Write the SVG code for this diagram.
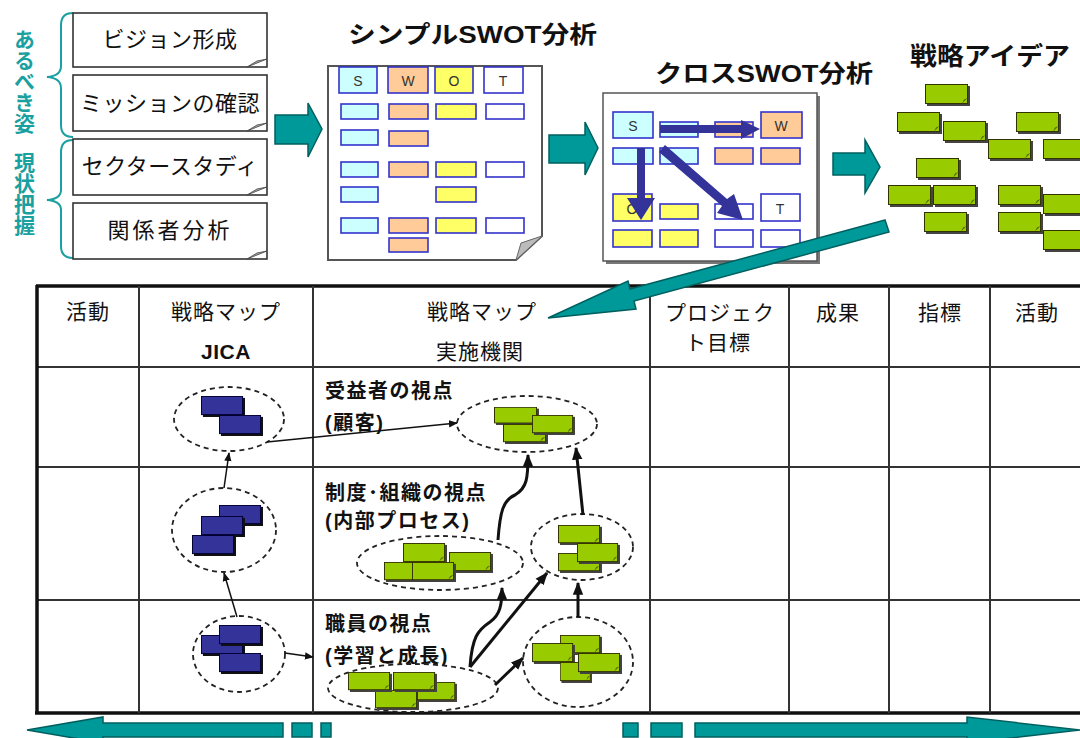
<svg xmlns="http://www.w3.org/2000/svg" xmlns:xlink="http://www.w3.org/1999/xlink" width="1080" height="738" viewBox="0 0 1080 738">
<style>
text{font-family:"Liberation Sans","Noto Sans CJK JP",sans-serif;fill:#111}
.box{fill:#fff;stroke:#333;stroke-width:1.6}
.fold{fill:#aaa;stroke:#444;stroke-width:0.8}
.bt{font-size:22px;text-anchor:middle;letter-spacing:0.5px}
.vt{font-size:21px;font-weight:bold;fill:#1aa0a0;writing-mode:vertical-rl}
.brace{fill:none;stroke:#1aa0a0;stroke-width:2}
.title{font-size:24px;font-weight:bold}
.teal{fill:#009999;stroke:#005f5f;stroke-width:1.5}
.c{stroke:#3333cc;stroke-width:1.6}
.S{fill:#ccffff}.W{fill:#ffcc99}.O{fill:#ffff66}.T{fill:#fff}
.cl{font-size:14px;text-anchor:middle;fill:#333}
.grid{stroke:#333;stroke-width:2}
.thick{stroke:#111;stroke-width:3.5}
.ht{font-size:21px;text-anchor:middle;letter-spacing:1px}
.ml{font-size:20px;font-weight:bold;letter-spacing:1.5px}
.ell{fill:#fff;stroke:#222;stroke-width:1.8;stroke-dasharray:5 4}
.thin{fill:none;stroke:#111;stroke-width:1.5}
.bold{fill:none;stroke:#111;stroke-width:3}
.xa{fill:#333399}
</style>
<defs>
<symbol id="gb" viewBox="0 0 45 22" preserveAspectRatio="none">
<rect x="2" y="2" width="43" height="20" fill="#444"/>
<rect x="0.5" y="0.5" width="42" height="19" fill="#99cc00" stroke="#333300" stroke-width="1"/>
<path d="M37,19.5 L42.5,14 L39,15.5 Z" fill="#556600"/>
</symbol>
<symbol id="bb" viewBox="0 0 45 22" preserveAspectRatio="none">
<rect x="2" y="2" width="43" height="20" fill="#111"/>
<rect x="0.5" y="0.5" width="42" height="19" fill="#333399" stroke="#000033" stroke-width="1"/>
</symbol>
<marker id="ah" viewBox="0 0 10 10" refX="9" refY="5" markerWidth="9" markerHeight="9" markerUnits="userSpaceOnUse" orient="auto"><path d="M0,1 L10,5 L0,9 Z" fill="#111"/></marker>
<marker id="ahb" viewBox="0 0 10 10" refX="9" refY="5" markerWidth="13" markerHeight="13" markerUnits="userSpaceOnUse" orient="auto"><path d="M0,1 L10,5 L0,9 Z" fill="#111"/></marker>
</defs>

<g id="status-labels">
<text class="vt" x="23" y="29">あるべき姿</text>
<text class="vt" x="23" y="152">現状把握</text>
<path class="brace" d="M73,13 Q61,13 61,25 L61,66 Q61,76 47,77 Q61,78 61,88 L61,125 Q61,137 73,137"/>
<path class="brace" d="M73,140 Q61,140 61,152 L61,190 Q61,199 47,200 Q61,201 61,210 L61,246 Q61,258 73,258"/>
</g>

<g id="box-vision">
<rect class="box" x="73" y="13" width="194" height="54"/>
<polygon class="fold" points="247,67 267,59 257,61"/>
<text class="bt" x="170" y="47">ビジョン形成</text>
</g>
<g id="box-mission">
<rect class="box" x="73" y="75" width="194" height="56"/>
<polygon class="fold" points="247,131 267,123 257,125"/>
<text class="bt" x="170" y="111">ミッションの確認</text>
</g>
<g id="box-sector">
<rect class="box" x="73" y="139" width="194" height="56"/>
<polygon class="fold" points="247,195 267,187 257,189"/>
<text class="bt" x="170" y="174">セクタースタディ</text>
</g>
<g id="box-stakeholder">
<rect class="box" x="73" y="203" width="194" height="56"/>
<polygon class="fold" points="247,259 267,251 257,253"/>
<text class="bt" x="170" y="238" style="letter-spacing:3px">関係者分析</text>
</g>

<g id="simple-swot">
<text class="title" x="348" y="43" textLength="249" lengthAdjust="spacingAndGlyphs">シンプルSWOT分析</text>
<path d="M328,66 L542,66 L542,236 L516,260 L328,260 Z" fill="#fff" stroke="#555" stroke-width="2"/>
<polygon points="516,260 542,236 521,243" fill="#bbb" stroke="#666" stroke-width="1"/>
<rect class="c S" x="339" y="67" width="38" height="26"/><text class="cl" x="358" y="86">S</text>
<rect class="c W" x="388" y="67" width="40" height="26"/><text class="cl" x="408" y="86">W</text>
<rect class="c O" x="435" y="67" width="38" height="26"/><text class="cl" x="454" y="86">O</text>
<rect class="c T" x="484" y="67" width="39" height="26"/><text class="cl" x="503" y="86">T</text>
<rect class="c S" x="341" y="104" width="37" height="15"/><rect class="c W" x="389" y="104" width="39" height="15"/><rect class="c O" x="436" y="104" width="40" height="15"/><rect class="c T" x="486" y="104" width="38" height="15"/>
<rect class="c S" x="341" y="130" width="37" height="15"/><rect class="c W" x="389" y="131" width="39" height="15"/>
<rect class="c S" x="341" y="162" width="37" height="15"/><rect class="c W" x="389" y="162" width="39" height="15"/><rect class="c O" x="436" y="162" width="40" height="15"/><rect class="c T" x="486" y="162" width="38" height="15"/>
<rect class="c S" x="341" y="187" width="37" height="15"/><rect class="c O" x="436" y="187" width="40" height="15"/>
<rect class="c S" x="341" y="218" width="37" height="15"/><rect class="c W" x="389" y="218" width="39" height="15"/><rect class="c O" x="436" y="218" width="40" height="15"/><rect class="c T" x="486" y="218" width="38" height="15"/>
<rect class="c W" x="389" y="238" width="39" height="14"/>
</g>

<g id="cross-swot">
<text class="title" x="655" y="82" textLength="218" lengthAdjust="spacingAndGlyphs">クロスSWOT分析</text>
<rect x="606" y="96" width="214" height="168" fill="#777"/>
<rect x="603" y="93" width="214" height="168" fill="#fff" stroke="#555" stroke-width="1.5"/>
<rect class="c S" x="613" y="112" width="40" height="26"/><text class="cl" x="633" y="131">S</text>
<rect class="c S" x="660" y="122" width="38" height="15"/><rect class="c W" x="715" y="122" width="38" height="15"/>
<rect class="c W" x="761" y="112" width="41" height="26"/><text class="cl" x="781" y="131">W</text>
<rect class="c S" x="613" y="148" width="40" height="16"/><rect class="c S" x="660" y="148" width="38" height="16"/><rect class="c W" x="715" y="148" width="38" height="16"/><rect class="c W" x="761" y="148" width="39" height="16"/>
<rect class="c O" x="613" y="194" width="39" height="27"/><text class="cl" x="632" y="214">O</text>
<rect class="c O" x="660" y="204" width="38" height="15"/><rect class="c T" x="715" y="204" width="38" height="15"/>
<rect class="c T" x="761" y="194" width="39" height="27"/><text class="cl" x="780" y="214">T</text>
<rect class="c O" x="613" y="230" width="39" height="17"/><rect class="c O" x="660" y="230" width="38" height="17"/><rect class="c T" x="715" y="230" width="38" height="17"/><rect class="c T" x="761" y="230" width="39" height="17"/>
<polygon class="xa" points="660,125 741,125 741,120 760,129 741,139 741,133 660,133"/>
<polygon class="xa" points="637,148 645,148 645,198 655,198 641,220 627,198 637,198"/>
<polygon class="xa" points="659,152 665,145 727,199 734,194 743,220 717,213 722,206"/>
</g>

<g id="strategy-ideas">
<text class="title" x="910" y="65" textLength="160" lengthAdjust="spacingAndGlyphs" style="font-size:25px">戦略アイデア</text>
<use href="#gb" x="925" y="84" width="45" height="22"/>
<use href="#gb" x="897" y="112" width="45" height="22"/>
<use href="#gb" x="943" y="121" width="45" height="22"/>
<use href="#gb" x="1016" y="112" width="45" height="22"/>
<use href="#gb" x="988" y="139" width="45" height="22"/>
<use href="#gb" x="1043" y="139" width="45" height="22"/>
<use href="#gb" x="916" y="158" width="45" height="22"/>
<use href="#gb" x="888" y="185" width="45" height="22"/>
<use href="#gb" x="933" y="185" width="45" height="22"/>
<use href="#gb" x="998" y="185" width="45" height="22"/>
<use href="#gb" x="1043" y="194" width="45" height="22"/>
<use href="#gb" x="924" y="212" width="45" height="22"/>
<use href="#gb" x="998" y="212" width="45" height="22"/>
<use href="#gb" x="1043" y="230" width="45" height="22"/>
</g>

<g id="flow-arrows">
<polygon class="teal" points="275,115 308,115 308,103 322,129 308,157 308,144 275,144"/>
<polygon class="teal" points="549,135 585,135 585,122 598,148 585,175 585,163 549,163"/>
<polygon class="teal" points="833,153 865,153 865,140 880,167 865,193 865,175 833,175"/>
</g>

<g id="table">
<line class="thick" x1="36" y1="286" x2="1080" y2="286"/>
<line class="grid" x1="37" y1="367" x2="1080" y2="367"/>
<line class="grid" x1="37" y1="467" x2="1080" y2="467"/>
<line class="grid" x1="37" y1="600" x2="1080" y2="600"/>
<line class="thick" x1="35" y1="713" x2="1080" y2="713"/>
<line class="thick" x1="37" y1="285" x2="37" y2="714"/>
<line class="grid" x1="139" y1="286" x2="139" y2="713"/>
<line class="grid" x1="313" y1="286" x2="313" y2="713"/>
<line class="grid" x1="650" y1="286" x2="650" y2="713"/>
<line class="grid" x1="789" y1="286" x2="789" y2="713"/>
<line class="grid" x1="889" y1="286" x2="889" y2="713"/>
<line class="grid" x1="990" y1="286" x2="990" y2="713"/>
<text class="ht" x="88" y="319">活動</text>
<text class="ht" x="226" y="319">戦略マップ</text>
<text x="226" y="359" style="font-size:21px;font-weight:bold;text-anchor:middle;letter-spacing:0.5px">JICA</text>
<text class="ht" x="482" y="319">戦略マップ</text>
<text class="ht" x="480" y="359">実施機関</text>
<text class="ht" x="720" y="320">プロジェク</text>
<text class="ht" x="718" y="350">ト目標</text>
<text class="ht" x="838" y="320">成果</text>
<text class="ht" x="940" y="320">指標</text>
<text class="ht" x="1037" y="320">活動</text>
<text class="ml" x="325" y="398">受益者の視点</text>
<text class="ml" x="325" y="430">(顧客)</text>
<text class="ml" x="325" y="500">制度･組織の視点</text>
<text class="ml" x="325" y="528">(内部プロセス)</text>
<text class="ml" x="325" y="631">職員の視点</text>
<text class="ml" x="325" y="663">(学習と成長)</text>
</g>

<g id="jica-customer">
<ellipse class="ell" cx="229" cy="419" rx="55" ry="32"/>
<use href="#bb" x="201" y="396" width="44" height="21"/>
<use href="#bb" x="219" y="415" width="44" height="21"/>
</g>
<g id="jica-process">
<ellipse class="ell" cx="224" cy="530" rx="52" ry="42"/>
<use href="#bb" x="219" y="505" width="44" height="21"/>
<use href="#bb" x="201" y="516" width="44" height="21"/>
<use href="#bb" x="192" y="535" width="44" height="21"/>
</g>
<g id="jica-learning">
<ellipse class="ell" cx="239" cy="654" rx="46" ry="38"/>
<use href="#bb" x="201" y="635" width="44" height="21"/>
<use href="#bb" x="219" y="625" width="44" height="21"/>
<use href="#bb" x="219" y="653" width="44" height="21"/>
</g>

<g id="agency-customer">
<ellipse class="ell" cx="527" cy="424" rx="70" ry="28"/>
<use href="#gb" x="494" y="407" width="45" height="18"/>
<use href="#gb" x="503" y="424" width="45" height="20"/>
<use href="#gb" x="532" y="415" width="43" height="20"/>
</g>
<g id="agency-process-a">
<ellipse class="ell" cx="440" cy="563" rx="83" ry="27"/>
<use href="#gb" x="403" y="543" width="44" height="21"/>
<use href="#gb" x="449" y="552" width="44" height="21"/>
<use href="#gb" x="384" y="562" width="44" height="20"/>
<use href="#gb" x="412" y="562" width="44" height="20"/>
</g>
<g id="agency-process-b">
<ellipse class="ell" cx="582" cy="547" rx="51" ry="33"/>
<use href="#gb" x="558" y="525" width="44" height="20"/>
<use href="#gb" x="558" y="553" width="44" height="20"/>
<use href="#gb" x="577" y="543" width="43" height="21"/>
</g>
<g id="agency-learning-a">
<ellipse class="ell" cx="413" cy="688" rx="85" ry="24"/>
<use href="#gb" x="375" y="690" width="44" height="20"/>
<use href="#gb" x="417" y="682" width="40" height="20"/>
<use href="#gb" x="348" y="672" width="44" height="20"/>
<use href="#gb" x="393" y="672" width="44" height="20"/>
</g>
<g id="agency-learning-b">
<ellipse class="ell" cx="578" cy="662" rx="55" ry="45"/>
<use href="#gb" x="560" y="635" width="42" height="20"/>
<use href="#gb" x="532" y="643" width="43" height="21"/>
<use href="#gb" x="560" y="662" width="32" height="21"/>
<use href="#gb" x="578" y="653" width="44" height="21"/>
</g>

<g id="connectors">
<line class="thin" x1="237" y1="617" x2="224" y2="573" marker-end="url(#ah)"/>
<line class="thin" x1="224" y1="488" x2="229" y2="453" marker-end="url(#ah)"/>
<line class="thin" x1="285" y1="653" x2="313" y2="657" marker-end="url(#ah)"/>
<line class="thin" x1="267" y1="442" x2="457" y2="423" marker-end="url(#ah)"/>
<path class="bold" d="M470,667 C472,637 478,630 490,622 C500,615 502,605 502,588" marker-end="url(#ahb)"/>
<line class="bold" x1="470" y1="667" x2="547" y2="573" marker-end="url(#ahb)"/>
<path class="bold" d="M498,540 C500,512 503,500 515,495 C527,488 528,478 528,455" marker-end="url(#ahb)"/>
<line class="bold" x1="495" y1="685" x2="523" y2="658" marker-end="url(#ahb)"/>
<line class="bold" x1="578" y1="617" x2="578" y2="583" marker-end="url(#ahb)"/>
<line class="bold" x1="583" y1="515" x2="576" y2="448" marker-end="url(#ahb)"/>
<polygon class="teal" points="885,220 630,289 628,281 548,318 636,309 634,301 889,232"/>
<polygon class="teal" points="283,723 103,723 103,717 27,730 103,743 103,737 283,737"/>
<rect class="teal" x="292" y="723" width="20" height="14"/>
<rect class="teal" x="321" y="723" width="10" height="14"/>
<rect class="teal" x="623" y="723" width="15" height="14"/>
<rect class="teal" x="651" y="723" width="31" height="14"/>
<polygon class="teal" points="695,723 967,723 967,717 1080,730 967,743 967,737 695,737"/>
</g>
</svg>
